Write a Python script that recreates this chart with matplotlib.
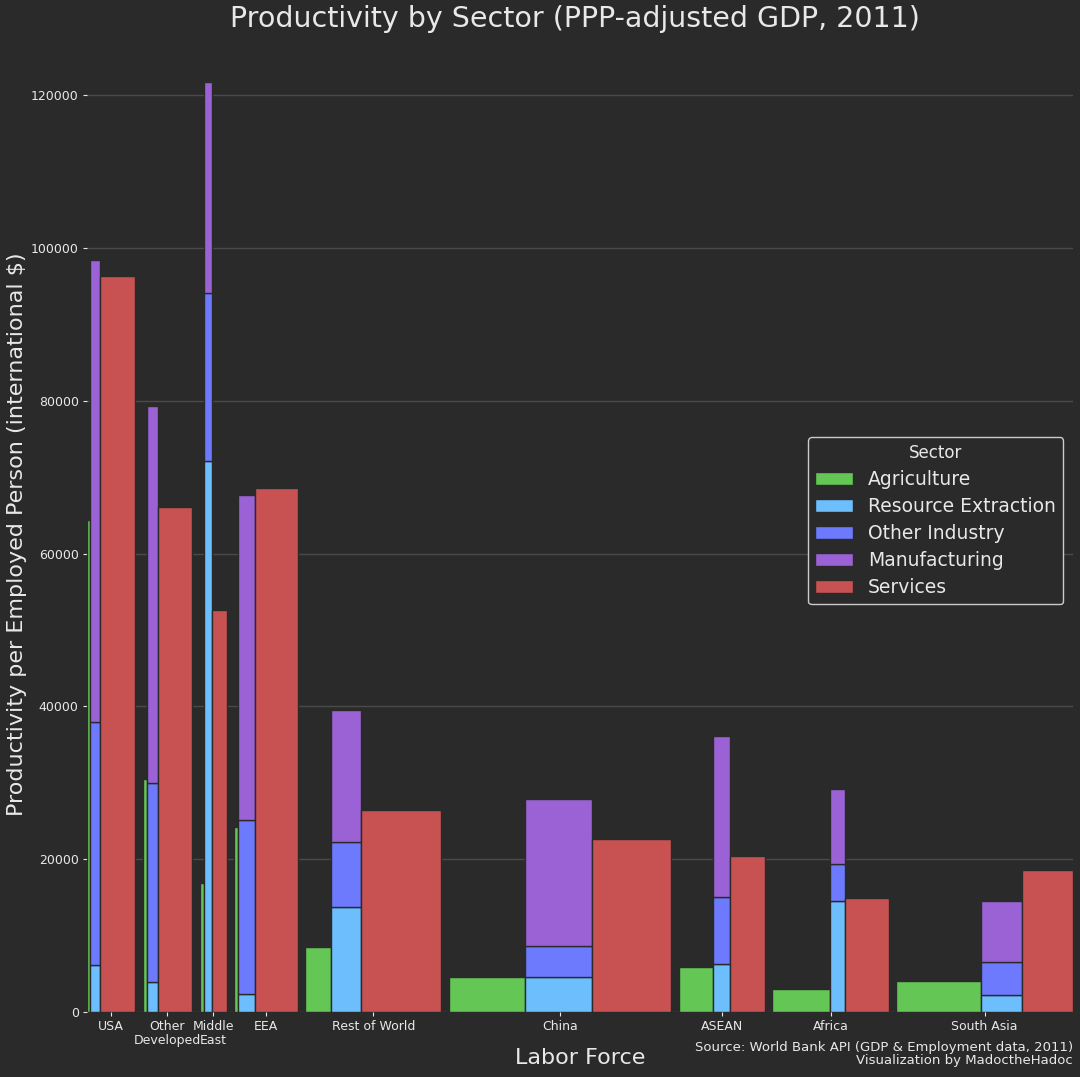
import numpy as np
import matplotlib.pyplot as plt
from matplotlib.patches import Patch

# employment by sector (millions) -> bar widths
regions = ['USA', 'Other\nDeveloped', 'Middle\nEast', 'EEA', 'Rest of World',
           'China', 'ASEAN', 'Africa', 'South Asia']
emp_agri = [9, 15, 15, 14, 88, 268, 118, 202, 296]
emp_ind = [35, 40, 28, 58, 105, 232, 60, 54, 142]
emp_serv = [124, 117, 52, 150, 282, 279, 122, 152, 179]

# productivity per employed person (international $)
prod_agri = [64400, 30500, 16900, 24200, 8500, 4600, 5900, 3000, 4050]
prod_resource = [6150, 3950, 72100, 2350, 13750, 4600, 6300, 14500, 2250]
prod_other_ind = [31800, 26000, 22000, 22750, 8500, 4050, 8750, 4850, 4300]
prod_manuf = [60450, 49350, 27700, 42550, 17250, 19250, 21050, 9850, 7950]
prod_serv = [96300, 66100, 52600, 68600, 26400, 22650, 20400, 14900, 18600]

sectors = ['Agriculture', 'Resource Extraction', 'Other Industry', 'Manufacturing', 'Services']
colors = ['#64c655', '#6cbefd', '#6e7afd', '#9a62d5', '#c85252']

bg = '#2a2a2a'
fg = '#e8e8e8'
gap = 27

fig = plt.figure(figsize=(10.8, 10.77), dpi=100, facecolor=bg)
ax = fig.add_axes([0.0806, 0.0604, 0.9126, 0.8866])
ax.set_facecolor(bg)

edge = dict(edgecolor=bg, linewidth=1.0, align='edge', zorder=3)
x = 0
centers = []
for i in range(len(regions)):
    start = x
    ax.bar(x, prod_agri[i], width=emp_agri[i], color=colors[0], **edge)
    x += emp_agri[i]
    ax.bar(x, prod_resource[i], width=emp_ind[i], color=colors[1], **edge)
    ax.bar(x, prod_other_ind[i], width=emp_ind[i], bottom=prod_resource[i],
           color=colors[2], **edge)
    ax.bar(x, prod_manuf[i], width=emp_ind[i],
           bottom=prod_resource[i] + prod_other_ind[i], color=colors[3], **edge)
    x += emp_ind[i]
    ax.bar(x, prod_serv[i], width=emp_serv[i], color=colors[4], **edge)
    x += emp_serv[i]
    centers.append((start + x) / 2)
    x += gap
x -= gap

ax.set_xlim(0, x)
ax.set_ylim(0, 125000)
ax.set_xticks(centers)
ax.set_xticklabels(regions, color=fg, fontsize=9, linespacing=1.05)
ax.set_yticks(np.arange(0, 120001, 20000))
ax.set_yticklabels([str(v) for v in range(0, 120001, 20000)], color=fg, fontsize=9)
ax.tick_params(colors=fg, length=3, width=0.8, pad=3)
ax.grid(axis='y', color='#4a4a4a', linewidth=1.0, zorder=0)
ax.set_axisbelow(True)
for s in ax.spines.values():
    s.set_visible(False)

ax.set_xlabel('Labor Force', color=fg, fontsize=16, labelpad=1)
ax.set_ylabel('Productivity per Employed Person (international $)', color=fg,
              fontsize=16, labelpad=3)
fig.suptitle('Productivity by Sector (PPP-adjusted GDP, 2011)', color=fg,
             fontsize=20.5, x=0.532, y=0.995)

handles = [Patch(facecolor=c, edgecolor=bg, label=s) for c, s in zip(colors, sectors)]
leg = ax.legend(handles=handles, title='Sector', loc='upper right',
                bbox_to_anchor=(1.0, 0.612), fontsize=13.5, title_fontsize=12,
                facecolor=bg, edgecolor='#cccccc', labelcolor=fg, framealpha=1,
                handlelength=2.0, handleheight=0.7, borderpad=0.4, labelspacing=0.42)
leg.get_title().set_color(fg)
leg.get_frame().set_linewidth(1.0)

fig.text(0.9935, 0.009, 'Source: World Bank API (GDP & Employment data, 2011)\nVisualization by MadoctheHadoc',
         ha='right', va='bottom', color=fg, fontsize=9.5, linespacing=1.05)

fig.savefig('out.png', dpi=100, facecolor=bg)
